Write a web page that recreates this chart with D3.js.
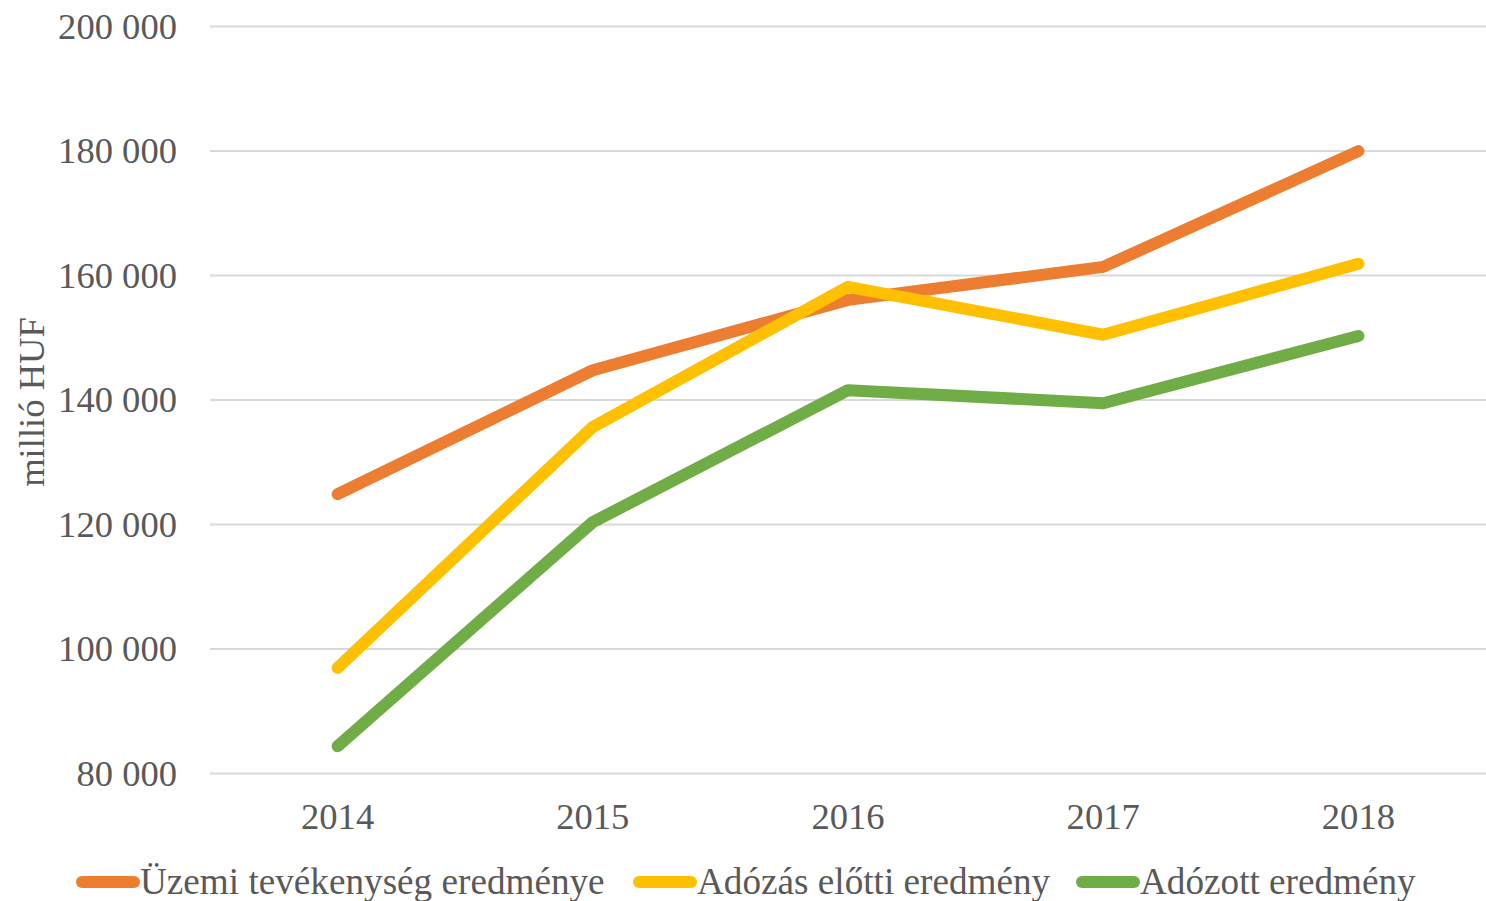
<!DOCTYPE html>
<html><head><meta charset="utf-8">
<script src="https://cdn.jsdelivr.net/npm/d3@7"></script>
<style>body{margin:0;background:#fff}svg{display:block}</style>
</head><body><svg id="c" width="1486" height="901"></svg>
<script>
const years = ["2014","2015","2016","2017","2018"];
const uzemi = [124800,144700,156000,161300,179900];
const adozasElotti = [96900,135600,158100,150400,161800];
const adozott = [84300,120300,141500,139400,150200];
const seriesNames = ["Üzemi tevékenység eredménye","Adózás előtti eredmény","Adózott eredmény"];
const yTicks = [80000,100000,120000,140000,160000,180000,200000];
const yTitle = "millió HUF";

const colors = ["#ED7D31","#FFC000","#70AD47"];
const series = [uzemi, adozasElotti, adozott];
const svg = d3.select("#c");
const font = "'Liberation Serif','Times New Roman',serif";
const textColor = "#595959";
const fs = 36.6;

const x = d3.scaleBand().domain(years).range([210,1486]);
const y = d3.scaleLinear().domain([80000,200000]).range([773,26]);

const yAxis = d3.axisLeft(y).tickValues(yTicks).tickSize(-(1486-210))
  .tickFormat(d => d3.format(",")(d).replace(/,/g," ")).tickPadding(33);
const gy = svg.append("g").attr("transform","translate(210,0)").call(yAxis);
gy.select(".domain").remove();
gy.selectAll(".tick line").attr("stroke","#d9d9d9").attr("stroke-width",2);
gy.selectAll(".tick text").attr("fill",textColor).style("font-family",font).style("font-size",fs+"px").attr("dy","0.33em");

const xAxis = d3.axisBottom(x).tickSize(0).tickPadding(30);
const gx = svg.append("g").attr("transform","translate(0,773)").call(xAxis);
gx.select(".domain").remove();
gx.selectAll(".tick text").attr("fill",textColor).style("font-family",font).style("font-size",fs+"px");

svg.append("text").attr("transform","translate(44,402) rotate(-90)").attr("text-anchor","middle")
  .attr("fill",textColor).style("font-family",font).style("font-size",fs+"px").text(yTitle);

const line = d3.line().x((d,i)=>x(years[i])+x.bandwidth()/2).y(d=>y(d));
series.forEach((s,k)=>{
  svg.append("path").datum(s).attr("d",line).attr("fill","none")
    .attr("stroke",colors[k]).attr("stroke-width",12).attr("stroke-linecap","round").attr("stroke-linejoin","round");
});

const legendX = [82, 639, 1082];
const lg = svg.append("g");
seriesNames.forEach((n,k)=>{
  lg.append("line").attr("x1",legendX[k]).attr("x2",legendX[k]+52).attr("y1",882).attr("y2",882)
    .attr("stroke",colors[k]).attr("stroke-width",12).attr("stroke-linecap","round");
  lg.append("text").attr("x",legendX[k]+58).attr("y",882).attr("dy","0.33em")
    .attr("fill",textColor).style("font-family",font).style("font-size","37.2px").text(n);
});
</script></body></html>
